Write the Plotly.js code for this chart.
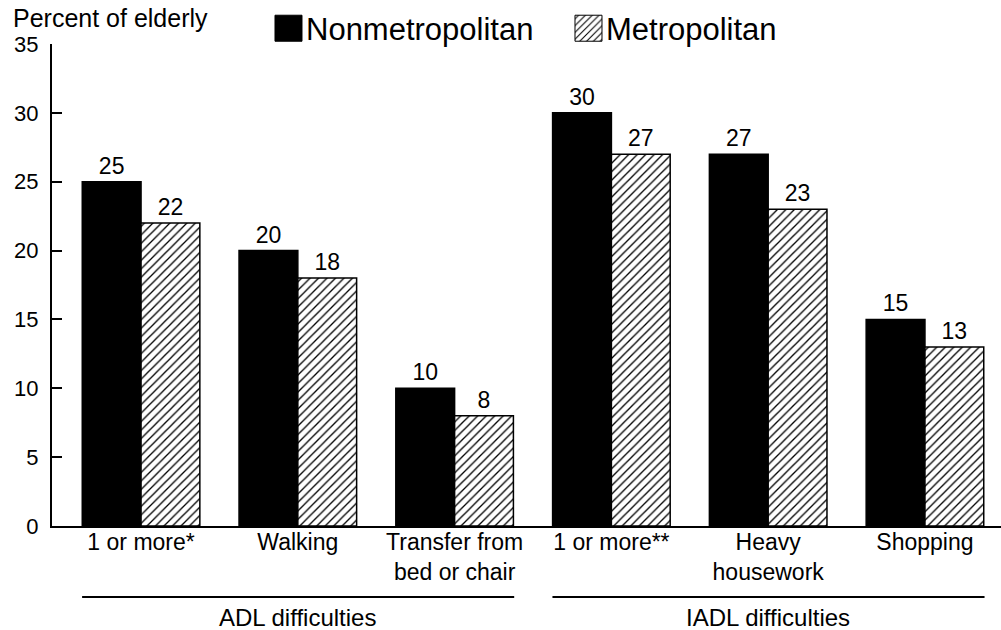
<!DOCTYPE html>
<html>
<head>
<meta charset="utf-8">
<script src="https://cdn.plot.ly/plotly-3.0.1.min.js"></script>
<style>html,body{margin:0;padding:0;background:#fff;}#chart{width:1001px;height:630px;}</style>
</head>
<body>
<div id="chart"></div>
<script>
const categories = ["1 or more*", "Walking", "Transfer from<br>bed or chair", "1 or more**", "Heavy<br>housework", "Shopping"];
const nonmetro = [25, 20, 10, 30, 27, 15];
const metro = [22, 18, 8, 27, 23, 13];
const seriesNames = ["Nonmetropolitan", "Metropolitan"];
const yTicks = [0, 5, 10, 15, 20, 25, 30, 35];
const groups = [
  {label: "ADL difficulties", from: 0, to: 2},
  {label: "IADL difficulties", from: 3, to: 5}
];

const FONT = "Liberation Sans, Arial, Helvetica, sans-serif";

const traces = [
  {
    type: "bar", name: seriesNames[0], x: categories, y: nonmetro,
    marker: {color: "#000", line: {color: "#000", width: 1.5}},
    text: nonmetro.map(String), textposition: "outside", cliponaxis: false,
    textfont: {family: FONT, size: 23, color: "#000"}, hoverinfo: "none"
  },
  {
    type: "bar", name: seriesNames[1], x: categories, y: metro,
    marker: {color: "#fff", line: {color: "#000", width: 1.5},
      pattern: {shape: "/", fgcolor: "#000", bgcolor: "#fff", size: 6, solidity: 0.22}},
    text: metro.map(String), textposition: "outside", cliponaxis: false,
    textfont: {family: FONT, size: 23, color: "#000"}, hoverinfo: "none"
  }
];

const shapes = groups.map(g => ({
  type: "line", xref: "x", yref: "paper",
  x0: g.from - 0.376, x1: g.to + 0.38, y0: -0.1473, y1: -0.1473,
  line: {color: "#000", width: 2}
}));
const annotations = groups.map(g => ({
  xref: "x", yref: "paper", x: (g.from + g.to) / 2, y: -0.1888,
  xanchor: "center", yanchor: "middle", showarrow: false, text: g.label,
  font: {family: FONT, size: 24, color: "#000"}
}));
annotations.push({
  xref: "paper", yref: "paper", x: -0.0432, y: 1.054, xanchor: "left", yanchor: "middle",
  showarrow: false, text: "Percent of elderly", font: {family: FONT, size: 25, color: "#000"}
});

const layout = {
  width: 1001, height: 630,
  margin: {l: 52, r: 0, t: 44, b: 104},
  paper_bgcolor: "#fff", plot_bgcolor: "#fff",
  font: {family: FONT, color: "#000"},
  barmode: "group", bargap: 0.25, bargroupgap: 0,
  showlegend: true,
  legend: {
    orientation: "h", x: 0.2255, xanchor: "left", y: 1.032, yanchor: "middle",
    font: {family: FONT, size: 31, color: "#000"},
    entrywidth: 255, entrywidthmode: "pixels", itemclick: false, itemdoubleclick: false
  },
  xaxis: {
    type: "category", range: [-0.568, 5.485], showline: true, linecolor: "#000", linewidth: 2,
    ticks: "", showgrid: false, zeroline: false, ticklabelstandoff: -6,
    tickfont: {family: FONT, size: 23, color: "#000"}, fixedrange: true
  },
  yaxis: {
    range: [0, 35], tickvals: yTicks, ticktext: yTicks.map(String),
    showline: true, linecolor: "#000", linewidth: 2,
    ticks: "inside", ticklen: 10, tickwidth: 2, tickcolor: "#000",
    showgrid: false, zeroline: false, ticklabelstandoff: 7,
    tickfont: {family: FONT, size: 22, color: "#000"}, fixedrange: true
  },
  shapes: shapes, annotations: annotations
};

Plotly.newPlot("chart", traces, layout, {displayModeBar: false, staticPlot: true}).then(() => {
  document.querySelectorAll("#chart .legendpoints path").forEach(p => {
    p.setAttribute("d", "M16,13H-11V-13H16Z");
    p.style.strokeWidth = "1px";
    p.style.stroke = "#000";
  });
});
</script>
</body>
</html>
